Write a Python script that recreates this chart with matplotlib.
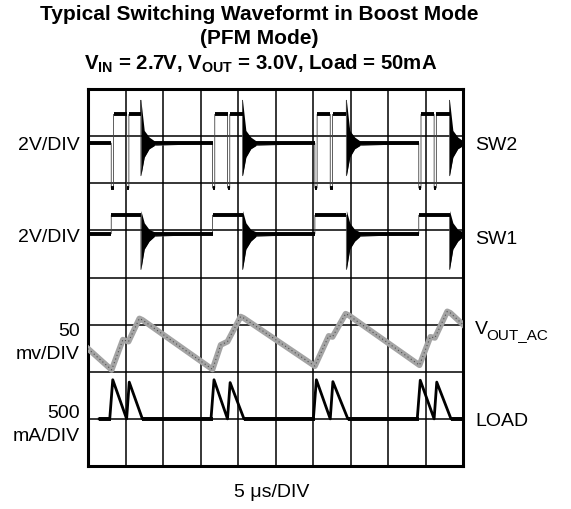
import matplotlib
matplotlib.use("Agg")
import matplotlib.pyplot as plt
import numpy as np

plt.rcParams['font.family'] = ['Liberation Sans', 'DejaVu Sans']
plt.rcParams['mathtext.fontset'] = 'custom'
plt.rcParams['mathtext.rm'] = 'Liberation Sans'
plt.rcParams['mathtext.bf'] = 'Liberation Sans:bold'

# time axis in divisions (5 us/DIV), vertical axis in divisions (8 total)
burst_start = [0.62, 3.32, 6.05, 8.82]
burst_mid = [1.03, 3.72, 6.46, 9.23]
burst_end = [1.41, 4.12, 6.89, 9.64]

# SW2: baseline, high, low dip, spike before ringing
sw2_levels = [6.85, 7.46, 5.90, 7.76]
# SW1: baseline, high
sw1_levels = [4.93, 5.32]

# ringing envelope after each burst (offset in div, relative to baseline)
ring_dt = [0.0, 0.09, 0.22, 0.36]
sw2_ring_hi = [0.91, 0.27, 0.13, 0.05]
sw2_ring_lo = [-0.69, -0.30, -0.12, -0.05]
sw1_ring_hi = [0.49, 0.23, 0.09, 0.04]
sw1_ring_lo = [-0.76, -0.33, -0.16, -0.06]

# output ripple (AC coupled)
vout_t = [0.0, 0.63, 0.93, 1.08, 1.37, 1.45,
          3.32, 3.54, 3.72, 4.07, 4.15,
          6.05, 6.42, 6.52, 6.87, 6.95,
          8.84, 9.13, 9.25, 9.58, 9.66, 10.0]
vout_v = [2.49, 2.04, 2.68, 2.64, 3.13, 3.10,
          2.05, 2.57, 2.64, 3.17, 3.14,
          2.12, 2.76, 2.74, 3.23, 3.20,
          2.14, 2.74, 2.72, 3.28, 3.25, 3.00]

# load / inductor current
load_base = 1.0
load_peak1 = [1.83, 1.83, 1.83, 1.82]
load_peak2 = [1.78, 1.77, 1.79, 1.78]

fig = plt.figure(figsize=(5.71, 5.10), dpi=100)
W, H = 571.0, 510.0


def px(x, y):
    return x / W, 1 - y / H


ax = fig.add_axes([88 / W, 1 - 467 / H, 375 / W, 377 / H])
ax.set_xlim(0, 10)
ax.set_ylim(0, 8)
ax.set_xticks(range(11))
ax.set_yticks(range(9))
ax.grid(True, color='black', lw=1.1)
ax.tick_params(length=0, labelbottom=False, labelleft=False)
for sp in ax.spines.values():
    sp.set_linewidth(2.2)

w = 0.06
ring_t = np.array(ring_dt)
end_ring = ring_dt[-1]

# SW2
base, high, low, spike = sw2_levels
t, v = [0.0], [base]
for s, m, e in zip(burst_start, burst_mid, burst_end):
    t += [s, s, s + w, s + w, m, m, m + w, m + w, e, e]
    v += [base, low, low, high, high, low, low, high, high, spike]
    t += list(ring_t + e)
    v += list(base + np.array(sw2_ring_lo))
t.append(10.0)
v.append(base)
ax.plot(t, v, color='#444444', lw=0.6, zorder=3)
starts = [0.0] + [e + end_ring for e in burst_end]
stops = burst_start + [10.0]
ax.hlines([base] * len(starts), starts, stops, color='black', lw=2.8, zorder=4)
ax.hlines([high] * 4, [s + w for s in burst_start], burst_mid, color='black', lw=2.8, zorder=4)
ax.hlines([high] * 4, [m + w for m in burst_mid], burst_end, color='black', lw=2.8, zorder=4)
ax.hlines([low] * 8, burst_start + burst_mid, [s + w for s in burst_start + burst_mid],
          color='black', lw=2.8, zorder=4)
for e in burst_end:
    ax.fill_between(ring_t + e, base + np.array(sw2_ring_lo),
                    base + np.array(sw2_ring_hi), color='black', lw=0, zorder=4)

# SW1
base, high = sw1_levels
t, v = [0.0], [base]
for s, e in zip(burst_start, burst_end):
    t += [s, s, e]
    v += [base, high, high]
    t += list(ring_t + e)
    v += list(base + np.array(sw1_ring_lo))
t.append(10.0)
v.append(base)
ax.plot(t, v, color='#444444', lw=0.6, zorder=3)
ax.hlines([base] * len(starts), starts, stops, color='black', lw=2.8, zorder=4)
ax.hlines([high] * 4, burst_start, burst_end, color='black', lw=2.8, zorder=4)
for e in burst_end:
    ax.fill_between(ring_t + e, base + np.array(sw1_ring_lo),
                    base + np.array(sw1_ring_hi), color='black', lw=0, zorder=4)

# VOUT_AC
ax.plot(vout_t, vout_v, color='#a4a4a4', lw=4.2, zorder=3, solid_joinstyle='round')
ax.plot(vout_t, vout_v, color='#505050', lw=0.8, ls=(0, (1, 2.5)), zorder=4)

# LOAD
t, v = [0.3], [load_base]
for s, m, e, p1, p2 in zip(burst_start, burst_mid, burst_end, load_peak1, load_peak2):
    t += [s - 0.04, s + 0.04, m, m + 0.07, e + 0.04]
    v += [load_base, p1, load_base, p2, load_base]
t.append(10.0)
v.append(load_base)
ax.plot(t, v, color='black', lw=2.0, zorder=4)
ax.hlines([load_base] * 5, [0.3] + [e + 0.04 for e in burst_end], stops,
          color='black', lw=2.8, zorder=4)

# labels
fs = 14
fig.text(*px(259, 14), 'Typical Switching Waveformt in Boost Mode', ha='center',
         va='center', fontsize=15, fontweight='bold')
fig.text(*px(259, 38), '(PFM Mode)', ha='center', va='center', fontsize=15,
         fontweight='bold')
fig.text(*px(261, 64), r'$\mathbf{V_{IN}}$ = 2.7V, $\mathbf{V_{OUT}}$ = 3.0V, Load = 50mA',
         ha='center', va='center', fontsize=14.7, fontweight='bold')

fig.text(*px(80, 146), '2V/DIV', ha='right', va='center', fontsize=fs)
fig.text(*px(80, 238), '2V/DIV', ha='right', va='center', fontsize=fs)
fig.text(*px(80, 331), '50', ha='right', va='center', fontsize=fs)
fig.text(*px(80, 355), 'mv/DIV', ha='right', va='center', fontsize=fs)
fig.text(*px(80, 414), '500', ha='right', va='center', fontsize=fs)
fig.text(*px(80, 437), 'mA/DIV', ha='right', va='center', fontsize=fs)

fig.text(*px(475, 146), 'SW2', ha='left', va='center', fontsize=fs)
fig.text(*px(475, 239), 'SW1', ha='left', va='center', fontsize=fs)
fig.text(*px(475, 330), 'V', ha='left', va='center', fontsize=fs)
fig.text(*px(486, 335), 'OUT_AC', ha='left', va='center', fontsize=11)
fig.text(*px(475, 422), 'LOAD', ha='left', va='center', fontsize=fs)

fig.text(*px(272, 493), '5 \u03bcs/DIV', ha='center', va='center', fontsize=fs)

fig.savefig('out.png', dpi=100)
